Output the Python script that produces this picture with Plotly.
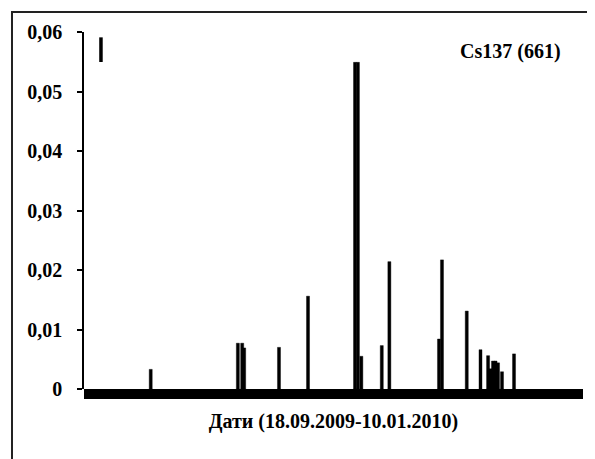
import plotly.graph_objects as go

# Measurement timestamps (18.09.2009 - 10.01.2010) and Cs137 (661 keV) values
dates = [
    "2009-10-03 09:00", "2009-10-23 11:00", "2009-10-24 11:00", "2009-10-24 22:00",
    "2009-11-01 22:30", "2009-11-08 15:00", "2009-11-19 11:00", "2009-11-20 03:00",
    "2009-11-20 22:00", "2009-11-25 15:00", "2009-11-27 09:00", "2009-12-08 19:30",
    "2009-12-09 12:00", "2009-12-15 05:00", "2009-12-18 09:00", "2009-12-20 03:00",
    "2009-12-20 16:20", "2009-12-21 06:15", "2009-12-21 20:10", "2009-12-22 10:00",
    "2009-12-23 08:00", "2009-12-26 02:30",
]
values = [
    0.0033, 0.0077, 0.0077, 0.0069,
    0.0070, 0.0156, 0.0549, 0.0549,
    0.0055, 0.0073, 0.0214, 0.0084,
    0.0217, 0.0131, 0.0066, 0.0056,
    0.0034, 0.0047, 0.0047, 0.0044,
    0.0029, 0.0059,
]
x_range = ["2009-09-18", "2010-01-11"]
y_tickvals = [0, 0.01, 0.02, 0.03, 0.04, 0.05, 0.06]
y_ticktext = ["0", "0,01", "0,02", "0,03", "0,04", "0,05", "0,06"]
series_label = "Cs137 (661)"
x_title = "Дати (18.09.2009-10.01.2010)"

FONT = "Liberation Serif, Times New Roman, serif"
BAR_WIDTH_MS = 0.7 * 86400000

fig = go.Figure(
    go.Bar(
        x=dates, y=values,
        width=[BAR_WIDTH_MS] * len(dates),
        marker=dict(color="black", line=dict(width=0.4, color="black")),
        showlegend=False,
    )
)

fig.update_layout(
    width=587, height=451,
    margin=dict(l=76, r=12, t=24, b=70),
    paper_bgcolor="white", plot_bgcolor="white",
    barmode="overlay",
    font=dict(family=FONT, size=20, color="black", weight="bold"),
    xaxis=dict(
        type="date", range=x_range,
        showticklabels=False, ticks="", showgrid=False, zeroline=False,
        showline=False,
        title=dict(text=x_title, standoff=24,
                   font=dict(family=FONT, size=20, weight="bold")),
    ),
    yaxis=dict(
        range=[0, 0.06], tickvals=y_tickvals, ticktext=y_ticktext,
        ticks="outside", ticklen=5, tickwidth=1.5, tickcolor="black",
        ticklabelstandoff=11,
        showline=True, linecolor="black", linewidth=1.5,
        showgrid=False, zeroline=False,
        tickfont=dict(family=FONT, size=20, weight="bold"),
    ),
    annotations=[
        dict(text=series_label, xref="paper", yref="paper",
             x=0.96, y=0.945, xanchor="right", yanchor="middle",
             showarrow=False, font=dict(family=FONT, size=20, weight="bold")),
    ],
    shapes=[
        # thick baseline band under zero
        dict(type="rect", xref="paper", x0=0, x1=1,
             yref="paper", ysizemode="pixel", yanchor=0, y0=0, y1=-10,
             fillcolor="black", line=dict(width=0)),
        # outer frame
        dict(type="rect", xref="paper", yref="paper",
             x0=-0.1443, x1=1.04, y0=-0.25, y1=1.056,
             line=dict(color="#222", width=2), fillcolor="rgba(0,0,0,0)"),
        # small marker at top-left
        dict(type="line", xref="paper", yref="paper",
             x0=0.034, x1=0.034, y0=0.916, y1=0.985,
             line=dict(color="black", width=3.5)),
    ],
)

fig.write_html("out.html")
